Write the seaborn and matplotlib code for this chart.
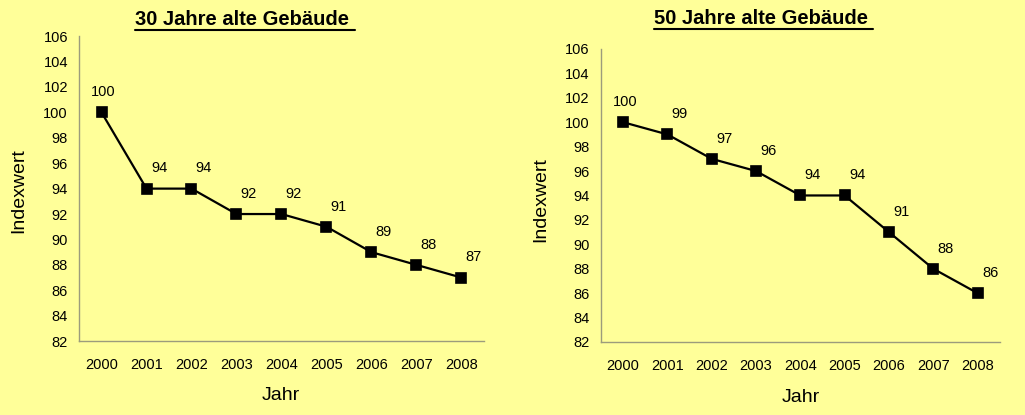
import matplotlib
matplotlib.use("Agg")
import matplotlib.pyplot as plt
import seaborn as sns
import pandas as pd
from matplotlib.lines import Line2D

# %% data
years = ["2000", "2001", "2002", "2003", "2004", "2005", "2006", "2007", "2008"]
idx_30 = [100, 94, 94, 92, 92, 91, 89, 88, 87]
idx_50 = [100, 99, 97, 96, 94, 94, 91, 88, 86]
titles = ["30 Jahre alte Gebäude ", "50 Jahre alte Gebäude "]
yticks = list(range(82, 107, 2))

bg = "#FFFF99"
spine = "#9c9c7c"

sns.set_style("white")
plt.rcParams["font.family"] = ["Liberation Sans", "DejaVu Sans"]
plt.rcParams["text.color"] = "black"
plt.rcParams["xtick.labelcolor"] = "black"
plt.rcParams["ytick.labelcolor"] = "black"

fig = plt.figure(figsize=(10.25, 4.15), dpi=100, facecolor=bg)
ax1 = fig.add_axes([0.0771, 0.178, 0.395, 0.735])
ax2 = fig.add_axes([0.5863, 0.176, 0.389, 0.706])

panels = [
    (ax1, idx_30, titles[0], (0.239, 0.952), (0.018, 0.54), (0.274, 0.046)),
    (ax2, idx_50, titles[1], (0.745, 0.955), (0.528, 0.52), (0.781, 0.043)),
]

title_texts = []
for ax, vals, title, tpos, ypos, xpos in panels:
    df = pd.DataFrame({"Jahr": years, "Indexwert": vals})
    ax.set_facecolor(bg)
    sns.pointplot(data=df, x="Jahr", y="Indexwert", ax=ax, color="black",
                  markers="s", linestyles="-", linewidth=1.6, markersize=7)
    ax.set_xlim(-0.5, 8.5)
    ax.set_ylim(82, 106)
    ax.set_yticks(yticks)
    ax.set_yticklabels([str(t) for t in yticks], fontsize=10.5)
    ax.set_xticks(range(len(years)))
    ax.set_xticklabels(years, fontsize=10.5)
    ax.set_xticks([i - 0.5 for i in range(len(years) + 1)], minor=True)
    ax.tick_params(axis="x", which="major", length=0, pad=12)
    ax.tick_params(axis="x", which="minor", length=5, color=spine, width=1, direction="out")
    ax.tick_params(axis="y", length=5, color=spine, width=1, direction="out", pad=3)
    for s in ["top", "right"]:
        ax.spines[s].set_visible(False)
    for s in ["left", "bottom"]:
        ax.spines[s].set_color(spine)
        ax.spines[s].set_linewidth(1)
    ax.set_xlabel("")
    ax.set_ylabel("")
    for i, v in enumerate(vals):
        dx = 1.5 if i == 0 else 9
        ax.annotate(str(v), (i, v), xytext=(dx, 14.5), textcoords="offset points",
                    ha="center", va="center", fontsize=10.5)
    t = fig.text(tpos[0], tpos[1], title, ha="center", va="center",
                 fontsize=14.5, fontweight="bold")
    title_texts.append(t)
    fig.text(ypos[0], ypos[1], "Indexwert", rotation=90, ha="center", va="center", fontsize=14)
    fig.text(xpos[0], xpos[1], "Jahr", ha="center", va="center", fontsize=14)

# underline titles
fig.canvas.draw()
r = fig.canvas.get_renderer()
W, H = fig.bbox.width, fig.bbox.height
for t in title_texts:
    bb = t.get_window_extent(r)
    y = (bb.y0 - 1) / H
    fig.add_artist(Line2D([bb.x0 / W, bb.x1 / W], [y, y], color="black", lw=1.5))

fig.savefig("out.png", dpi=100, facecolor=bg)
